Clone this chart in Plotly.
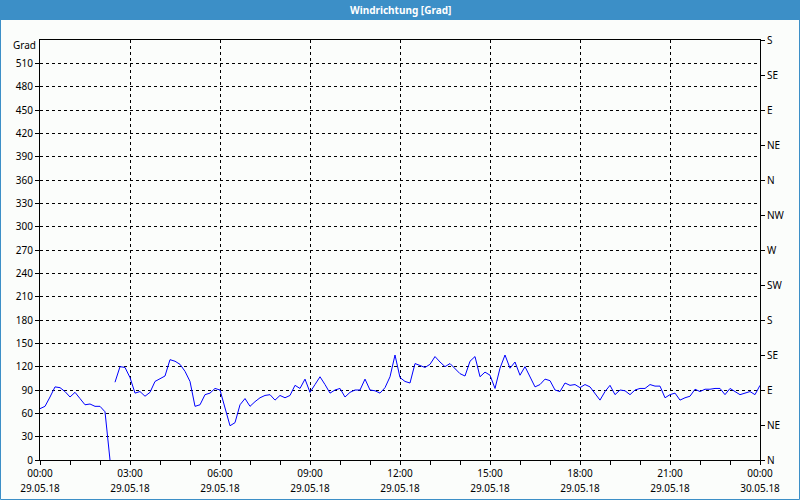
import pandas as pd
import plotly.graph_objects as go

# ---- data (10-minute samples, 29.05.18 00:00 .. 30.05.18 00:00) ----
start = "2018-05-29 00:00"
values = [
    66, 69, 81, 94, 93, 88,        # 00:00
    81, 87, 79, 71, 72, 69,        # 01:00
    69, 62, 0, 100, 120, 119,      # 02:00
    106, 86, 88, 82, 87, 101,      # 03:00
    105, 108, 129, 127, 123, 114,  # 04:00
    101, 69, 71, 84, 86, 92,       # 05:00
    90, 66, 44, 48, 71, 79,        # 06:00
    69, 75, 80, 83, 84, 77,        # 07:00
    83, 80, 83, 96, 92, 104,       # 08:00
    87, 97, 107, 97, 86, 90,       # 09:00
    92, 81, 87, 90, 90, 104,       # 10:00
    90, 89, 86, 93, 107, 135,      # 11:00
    106, 101, 99, 124, 121, 119,   # 12:00
    123, 133, 126, 120, 124, 118,  # 13:00
    111, 108, 127, 133, 107, 113,  # 14:00
    109, 92, 118, 135, 118, 126,   # 15:00
    109, 120, 107, 94, 97, 104,    # 16:00
    102, 90, 88, 99, 96, 97,       # 17:00
    93, 97, 94, 86, 77, 88,        # 18:00
    96, 84, 90, 89, 84, 90,        # 19:00
    92, 92, 97, 95, 95, 80,        # 20:00
    84, 86, 77, 80, 82, 91,        # 21:00
    88, 91, 91, 92, 92, 84,        # 22:00
    92, 88, 84, 86, 88, 84,        # 23:00
    96,                            # 00:00 next day
]
gap_after = "2018-05-29 02:20"   # line is interrupted after this sample

y_ticks = list(range(0, 540, 30))
dir_ticks = list(range(0, 541, 45))
dir_labels = ["N", "NE", "E", "SE", "S", "SW", "W", "NW", "N", "NE", "E", "SE", "S"]
x_ticks = pd.date_range(start, periods=9, freq="3h")
time_labels = [f"{t:%H:%M}" for t in x_ticks]
date_labels = [f"{t:%d.%m.%y}" for t in x_ticks]

title_text = "Windrichtung [Grad]"
unit_text = "Grad"

# ---- build series with gap ----
times = pd.date_range(start, periods=len(values), freq="10min")
xs, ys = [], []
for t, v in zip(times, values):
    xs.append(t)
    ys.append(v)
    if t == pd.Timestamp(gap_after):
        xs.append(t + pd.Timedelta(minutes=5))
        ys.append(None)

FONT = "Noto Sans"
BLUE = "#3c8fc7"
DASH = "3px,3px"
L, R, T, B = 40, 40, 40, 40
PW, PH = 800 - L - R, 500 - T - B


def px(X):
    return (X - L) / PW


def py(Y):
    return (500 - B - Y) / PH


fig = go.Figure()
fig.add_trace(go.Scatter(x=xs, y=ys, mode="lines", line=dict(color="#0000ff", width=1),
                         connectgaps=False, showlegend=False, hoverinfo="skip"))
# helper traces to activate the right axis and the date axis
fig.add_trace(go.Scatter(x=[times[0]], y=[None], yaxis="y2", showlegend=False, hoverinfo="skip"))
fig.add_trace(go.Scatter(x=[times[0]], y=[None], xaxis="x2", showlegend=False, hoverinfo="skip"))

fig.update_layout(
    width=800, height=500,
    margin=dict(l=L, r=R, t=T, b=B),
    paper_bgcolor="#fbfdfb", plot_bgcolor="#fbfdfb",
    font=dict(family=FONT, size=10, color="#000000"),
    hovermode=False,
    xaxis=dict(
        type="date", range=[times[0], times[-1]],
        tickvals=list(x_ticks), ticktext=time_labels, tickangle=0,
        showgrid=True, gridcolor="#000000", gridwidth=1, griddash=DASH,
        showline=True, linecolor="#000000", linewidth=1, mirror=True,
        ticks="outside", ticklen=4, tickcolor="#000000",
        minor=dict(dtick=3600000, ticks="outside", ticklen=4, tickcolor="#000000", showgrid=False),
        zeroline=False, fixedrange=True, automargin=False,
    ),
    xaxis2=dict(
        type="date", range=[times[0], times[-1]], overlaying="x", anchor="y", side="bottom",
        tickvals=list(x_ticks), ticktext=date_labels, tickangle=0,
        showgrid=False, showline=False, ticks="", ticklabelstandoff=21,
        zeroline=False, fixedrange=True, automargin=False,
    ),
    yaxis=dict(
        range=[0, 540], tickvals=y_ticks,
        showgrid=True, gridcolor="#000000", gridwidth=1, griddash=DASH,
        showline=True, linecolor="#000000", linewidth=1, mirror=True,
        ticks="outside", ticklen=4, tickcolor="#000000",
        zeroline=False, fixedrange=True, automargin=False,
    ),
    yaxis2=dict(
        range=[0, 540], tickvals=dir_ticks, ticktext=dir_labels,
        overlaying="y", side="right", showgrid=False, zeroline=False,
        ticks="outside", ticklen=4, tickcolor="#000000", showline=False,
        fixedrange=True, automargin=False,
    ),
    shapes=[
        dict(type="rect", xref="paper", yref="paper",
             x0=px(0), x1=px(800), y0=py(20), y1=py(0),
             fillcolor=BLUE, line=dict(width=0), layer="below"),
        dict(type="rect", xref="paper", yref="paper",
             x0=px(0.5), x1=px(799.5), y0=py(499.5), y1=py(0.5),
             fillcolor="rgba(0,0,0,0)", line=dict(color=BLUE, width=1)),
    ],
    annotations=[
        dict(text=f"<b>{title_text}</b>", xref="paper", yref="paper",
             x=0.5, y=py(10), yanchor="middle", showarrow=False,
             font=dict(family=FONT, size=10, color="#ffffff")),
        dict(text=unit_text, xref="paper", yref="paper",
             x=px(38), y=py(45), xanchor="right", yanchor="middle", showarrow=False,
             font=dict(family=FONT, size=10, color="#000000")),
    ],
)

fig.write_html("out.html", config={"displayModeBar": False, "staticPlot": True},
               post_script="document.body.style.margin='0';document.body.style.padding='0';")
